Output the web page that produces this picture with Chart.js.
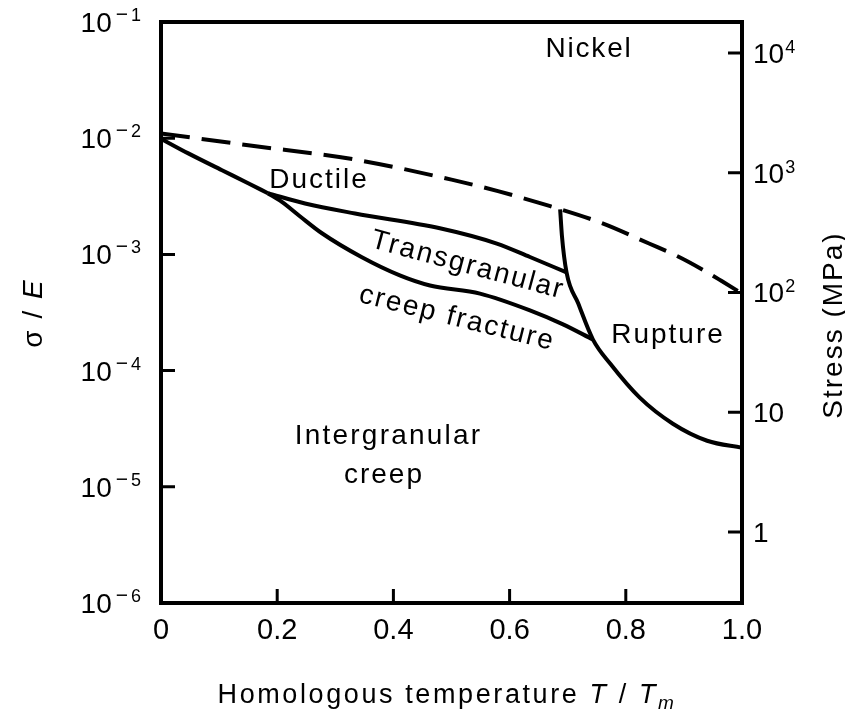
<!DOCTYPE html>
<html>
<head>
<meta charset="utf-8">
<title>Fracture mechanism map — Nickel</title>
<script src="https://cdn.jsdelivr.net/npm/chart.js@4.4.0/dist/chart.umd.min.js"></script>
<style>
  html, body { margin: 0; padding: 0; background: #fff; }
  canvas { display: block; }
</style>
</head>
<body>
<canvas id="map" width="845" height="710"></canvas>
<script>
// ---- Axis ticks ----
const tempTicks = [0, 0.2, 0.4, 0.6, 0.8, 1.0];
const sigmaTicks = [1e-1, 1e-2, 1e-3, 1e-4, 1e-5, 1e-6];
const stressTicks = [1, 10, 100, 1000, 10000];

// ---- Field boundaries (T/Tm, sigma/E) ----
// ideal strength limit (dashed)
const limitT = [0, 0.15, 0.33, 0.50, 0.58, 0.67, 0.76, 0.84, 0.89, 0.93, 0.965, 1.00];
const limitS = [0.0110, 0.0087, 0.0066, 0.0044, 0.0035, 0.0026, 0.00185, 0.00124, 0.00096, 0.00075, 0.00059, 0.00046];

// ductile / intergranular creep boundary up to the triple point
const ductileT = [0, 0.047, 0.105, 0.150, 0.184];
const ductileS = [0.0099, 0.0074, 0.0053, 0.0041, 0.00336];

// ductile / transgranular creep fracture boundary
const transUpperT = [0.184, 0.248, 0.334, 0.480, 0.578, 0.635, 0.698];
const transUpperS = [0.00336, 0.00274, 0.00225, 0.00168, 0.00124, 0.00095, 0.00070];

// transgranular / intergranular creep fracture boundary
const transLowerT = [0.184, 0.208, 0.239, 0.277, 0.345, 0.411, 0.463, 0.549, 0.635, 0.692, 0.7435];
const transLowerS = [0.00336, 0.00283, 0.00213, 0.00152, 0.00095, 0.00066, 0.00054, 0.00046, 0.00033, 0.00025, 0.000185];

// rupture boundary
const ruptureT = [0.687, 0.690, 0.698, 0.718, 0.7435, 0.773, 0.824, 0.881, 0.940, 1.0];
const ruptureS = [0.00244, 0.00146, 0.00070, 0.00038, 0.000185, 0.000115, 0.0000585, 0.0000349, 0.0000249, 0.0000217];

// ---- Helpers ----
const FAMILY = '"Liberation Sans", Arial, Helvetica, sans-serif';
const font = (size, style) => (style ? style + ' ' : '') + size + 'px ' + FAMILY;
const toPoints = (xs, ys) => xs.map((x, i) => ({ x: x, y: ys[i] }));

function boundary(xs, ys, dashed) {
  return {
    data: toPoints(xs, ys),
    showLine: true,
    borderColor: '#000',
    borderWidth: 4,
    borderDash: dashed ? [29, 12] : [],
    borderJoinStyle: 'round',
    cubicInterpolationMode: 'monotone',
    pointRadius: 0,
    pointHoverRadius: 0,
    fill: false
  };
}

// text anchored at a data position, optionally rotated
function dataText(chart, text, tx, sy, opts) {
  const { ctx, scales } = chart;
  const px = scales.x.getPixelForValue(tx);
  const py = scales.y.getPixelForValue(sy);
  ctx.save();
  ctx.translate(px, py);
  if (opts.angle) ctx.rotate(opts.angle * Math.PI / 180);
  ctx.font = font(opts.size || 28);
  ctx.letterSpacing = (opts.spacing || 0) + 'px';
  ctx.textAlign = 'center';
  ctx.textBaseline = opts.baseline || 'alphabetic';
  ctx.fillText(text, 0, 0);
  ctx.restore();
}

// mixed-style run of text, centred at (cx, baseline)
function drawRun(ctx, parts, cx, y, spacing) {
  ctx.letterSpacing = spacing + 'px';
  let total = 0;
  parts.forEach(p => { ctx.font = font(p.size, p.style); p.w = ctx.measureText(p.t).width; total += p.w; });
  let x = cx - total / 2;
  ctx.textAlign = 'left';
  ctx.textBaseline = 'alphabetic';
  parts.forEach(p => { ctx.font = font(p.size, p.style); ctx.fillText(p.t, x, y + (p.dy || 0)); x += p.w; });
  ctx.letterSpacing = '0px';
}

const decorations = {
  id: 'decorations',
  beforeDraw(chart) {
    const { ctx, width, height } = chart;
    ctx.save();
    ctx.fillStyle = '#fff';
    ctx.fillRect(0, 0, width, height);
    ctx.restore();
  },
  afterDatasetsDraw(chart) {
    const { ctx, chartArea: a, scales } = chart;
    const sx = scales.x, sy = scales.y, ss = scales.stress;
    ctx.save();
    ctx.strokeStyle = '#000';
    ctx.fillStyle = '#000';

    // frame
    ctx.lineWidth = 4;
    ctx.strokeRect(a.left, a.top, a.right - a.left, a.bottom - a.top);

    // inward tick marks
    const TICK = 14;
    ctx.lineWidth = 3;
    ctx.beginPath();
    sx.ticks.forEach(t => {
      const p = sx.getPixelForValue(t.value);
      if (p > a.left + 3 && p < a.right - 3) { ctx.moveTo(p, a.bottom); ctx.lineTo(p, a.bottom - TICK); }
    });
    sy.ticks.forEach(t => {
      const p = sy.getPixelForValue(t.value);
      if (p > a.top + 3 && p < a.bottom - 3) { ctx.moveTo(a.left, p); ctx.lineTo(a.left + TICK, p); }
    });
    ss.ticks.forEach(t => {
      const p = ss.getPixelForValue(t.value);
      if (p > a.top + 3 && p < a.bottom - 3) { ctx.moveTo(a.right, p); ctx.lineTo(a.right - TICK, p); }
    });
    ctx.stroke();

    // left tick labels: 10^-n
    ctx.textBaseline = 'alphabetic';
    ctx.textAlign = 'right';
    sy.ticks.forEach(t => {
      const p = sy.getPixelForValue(t.value);
      const e = Math.round(Math.log10(t.value));
      let x = a.left - 20;
      ctx.font = font(18);
      const d = String(Math.abs(e));
      ctx.fillText(d, x, p - 1);
      x -= ctx.measureText(d).width + 3;
      ctx.font = font(21);
      ctx.fillText('\u2212', x, p - 1);
      x -= ctx.measureText('\u2212').width + 4;
      ctx.font = font(28);
      ctx.fillText('10', x, p + 10);
    });

    // right tick labels: stress in MPa
    ctx.textAlign = 'left';
    ss.ticks.forEach(t => {
      const p = ss.getPixelForValue(t.value);
      const e = Math.round(Math.log10(t.value));
      let x = a.right + 11;
      const base = e === 0 ? '1' : '10';
      ctx.font = font(28);
      ctx.fillText(base, x, p + 10);
      if (e >= 2) {
        x += ctx.measureText(base).width + 1;
        ctx.font = font(18);
        ctx.fillText(String(e), x, p);
      }
    });

    // axis titles
    drawRun(ctx, [
      { t: 'Homologous temperature ', size: 27 },
      { t: 'T', size: 27, style: 'italic' },
      { t: ' / ', size: 27 },
      { t: 'T', size: 27, style: 'italic' },
      { t: 'm', size: 19, style: 'italic', dy: 6 }
    ], 447, 703, 2.6);

    ctx.save();
    ctx.translate(32, 313);
    ctx.rotate(-Math.PI / 2);
    drawRun(ctx, [
      { t: '\u03C3 / ', size: 28 },
      { t: 'E', size: 28, style: 'italic' }
    ], 0, 10, 2);
    ctx.restore();

    ctx.save();
    ctx.translate(832, 325);
    ctx.rotate(-Math.PI / 2);
    drawRun(ctx, [{ t: 'Stress (MPa)', size: 28 }], 0, 10, 2);
    ctx.restore();

    // field labels
    dataText(chart, 'Nickel', 0.7367, 0.050, { size: 28, spacing: 1.8 });
    dataText(chart, 'Ductile', 0.272, 0.0037, { size: 28, spacing: 2 });
    dataText(chart, 'Transgranular', 0.528, 0.000804, { size: 28, spacing: 2, angle: 15, baseline: 'middle' });
    dataText(chart, 'creep fracture', 0.5095, 0.000281, { size: 28, spacing: 2, angle: 14, baseline: 'middle' });
    dataText(chart, 'Rupture', 0.8726, 0.000174, { size: 28, spacing: 2 });
    dataText(chart, 'Intergranular', 0.3916, 0.0000235, { size: 28, spacing: 2.2 });
    dataText(chart, 'creep', 0.3838, 0.0000108, { size: 28, spacing: 2 });

    ctx.restore();
  }
};

new Chart(document.getElementById('map'), {
  type: 'scatter',
  data: {
    datasets: [
      boundary(limitT, limitS, true),
      boundary(ductileT, ductileS, false),
      boundary(transUpperT, transUpperS, false),
      boundary(transLowerT, transLowerS, false),
      boundary(ruptureT, ruptureS, false)
    ]
  },
  options: {
    responsive: false,
    animation: false,
    devicePixelRatio: 1,
    layout: { padding: { top: 22, left: 0, right: 0, bottom: 0 } },
    plugins: { legend: { display: false }, tooltip: { enabled: false } },
    events: [],
    scales: {
      x: {
        type: 'linear',
        position: 'bottom',
        min: 0,
        max: 1,
        afterFit(s) { s.height = 107; },
        afterBuildTicks(s) { s.ticks = tempTicks.map(v => ({ value: v })); },
        grid: { display: false, drawTicks: false },
        border: { display: false },
        ticks: {
          color: '#000',
          font: { family: FAMILY, size: 29 },
          padding: 11,
          maxRotation: 0,
          autoSkip: false,
          callback: v => (v === 0 ? '0' : v.toFixed(1))
        }
      },
      y: {
        type: 'logarithmic',
        position: 'left',
        min: 1e-6,
        max: 1e-1,
        afterFit(s) { s.width = 161; },
        afterBuildTicks(s) { s.ticks = sigmaTicks.map(v => ({ value: v })); },
        grid: { display: false, drawTicks: false },
        border: { display: false },
        ticks: { display: false }
      },
      stress: {
        type: 'logarithmic',
        position: 'right',
        min: Math.pow(10, -0.594),
        max: Math.pow(10, 4.259),
        afterFit(s) { s.width = 103; },
        afterBuildTicks(s) { s.ticks = stressTicks.map(v => ({ value: v })); },
        grid: { display: false, drawTicks: false },
        border: { display: false },
        ticks: { display: false }
      }
    }
  },
  plugins: [decorations]
});
</script>
</body>
</html>
